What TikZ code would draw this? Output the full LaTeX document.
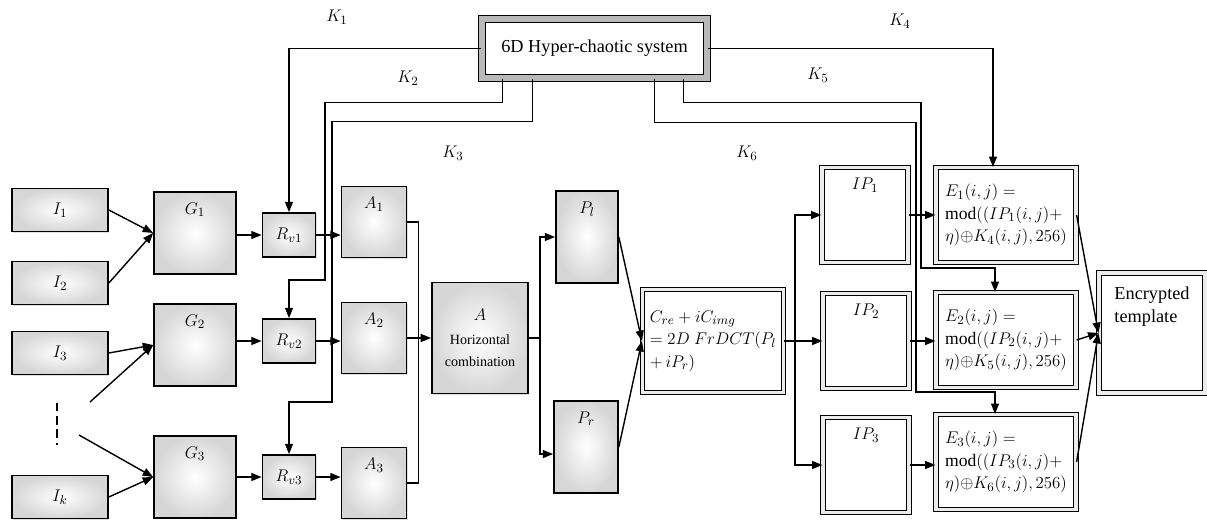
\documentclass[tikz,border=0pt]{standalone}
\usepackage{fontspec}
\setmainfont{Liberation Serif}
\usetikzlibrary{arrows.meta,positioning,calc,shadows}

\begin{document}
\begin{tikzpicture}[x=0.025cm, y=-0.025cm,
    font=\fontsize{13}{16}\selectfont,
    box/.style={draw, line width=1.2pt, inner color=white, outer color=gray!32, align=center,
        drop shadow={opacity=0.25, shadow xshift=1pt, shadow yshift=-1pt}},
    fbox/.style={draw, line width=0.8pt, double=gray!15, double distance=2.5pt, fill=white, align=left,
        drop shadow={opacity=0.25, shadow xshift=1pt, shadow yshift=-1pt}},
    tl/.style={label={[anchor=north, inner sep=0pt, yshift=-8pt]north:#1}},
    ibox/.style={box, minimum width=2.4cm, minimum height=1.075cm},
    gbox/.style={box, minimum width=2.05cm, minimum height=2.05cm, every label/.append style={yshift=-3.5pt}},
    rbox/.style={box, minimum width=1.325cm, minimum height=1.1cm},
    abox/.style={box, minimum width=1.625cm, minimum height=1.775cm},
    pbox/.style={box, minimum width=1.55cm, minimum height=2.3cm},
    ipbox/.style={fbox, minimum width=2.15cm, minimum height=2.375cm},
    ebox/.style={fbox, minimum width=3.5cm, minimum height=2.375cm, font=\fontsize{12.5}{16}\selectfont},
    arr/.style={-{Triangle[length=2.6mm, width=2mm]}, line width=1pt},
    ln/.style={line width=1pt},
]
    \useasboundingbox (0,0) rectangle (1207,521);

    % Chaotic key generator
    \node[draw, line width=1pt, double=gray!55, double distance=4pt, fill=white,
        minimum width=5.625cm, minimum height=1.475cm]
        (chaos) at (594.5,48.5) {6D Hyper-chaotic system};

    % Input images
    \node[ibox] (i1) at (60,210) {$I_1$};
    \node[ibox] (i2) at (60,283) {$I_2$};
    \node[ibox] (i3) at (60,353) {$I_3$};
    \node[ibox] (ik) at (60,497) {$I_k$};
    \node[minimum height=1.05cm, inner sep=0pt] (idots) at (57,424) {};
    \draw[line width=1.5pt, dash pattern=on 6pt off 3.5pt] (idots.north) -- (idots.south);
    \coordinate (d1) at (90,402);
    \coordinate (d2) at (79,435);

    % Groups, rotation and blocks
    \node[gbox, tl={$G_1$}] (g1) at (195,233) {};
    \node[gbox, tl={$G_2$}] (g2) at (195,345) {};
    \node[gbox, tl={$G_3$}] (g3) at (195,477) {};
    \node[rbox] (rv1) at (289,235) {$R_{v1}$};
    \node[rbox] (rv2) at (289,341) {$R_{v2}$};
    \node[rbox] (rv3) at (289,477) {$R_{v3}$};
    \node[abox, tl={$A_1$}] (a1) at (374,222) {};
    \node[abox, tl={$A_2$}] (a2) at (374,338) {};
    \node[abox, tl={$A_3$}] (a3) at (374,483) {};

    % Combination and transform
    \node[box, minimum width=2.4cm, minimum height=2.775cm] (a) at (480,338)
        {$A$\\[1pt]{\fontsize{10}{12}\selectfont Horizontal}\\{\fontsize{10}{12}\selectfont combination}};
    \node[pbox, tl={$P_l$}] (pl) at (587,237) {};
    \node[pbox, tl={$P_r$}, minimum width=1.6cm] (pr) at (586,447) {};
    \node[fbox, minimum width=3.525cm, minimum height=2.575cm, font=\fontsize{12.5}{16}\selectfont] (c) at (713,341)
        {$C_{re}+iC_{img}$\\$=2D\ FrDCT(P_l$\\$+\,iP_r)$};

    % Encryption
    \node[ipbox, tl={$IP_1$}] (ip1) at (865,215) {};
    \node[ipbox, tl={$IP_2$}] (ip2) at (866,341) {};
    \node[ipbox, tl={$IP_3$}] (ip3) at (866,465) {};
    \node[ebox] (e1) at (1006,215) {$E_1(i,j)=$\\$\mathrm{mod}((IP_1(i,j)+$\\$\eta){\oplus}K_4(i,j),256)$};
    \node[ebox] (e2) at (1006,340) {$E_2(i,j)=$\\$\mathrm{mod}((IP_2(i,j)+$\\$\eta){\oplus}K_5(i,j),256)$};
    \node[ebox] (e3) at (1006,462) {$E_3(i,j)=$\\$\mathrm{mod}((IP_3(i,j)+$\\$\eta){\oplus}K_6(i,j),256)$};
    \node[fbox, minimum width=2.65cm, minimum height=3cm,
        label={[anchor=north, align=left, yshift=-7pt]north:{Encrypted\\template}}]
        (enc) at (1152,333) {};

    % Key labels
    \node (k1) at (337,17) {$K_1$};
    \node (k2) at (408,78) {$K_2$};
    \node (k3) at (453,153) {$K_3$};
    \node (k4) at (900,21) {$K_4$};
    \node (k5) at (818,75) {$K_5$};
    \node (k6) at (747,153) {$K_6$};

    % Inputs to groups
    \draw[arr] (i1.east) -- (g1.west);
    \draw[arr] (i2.east) -- (g1.west);
    \draw[arr] (i3.east) -- (g2.west);
    \draw[arr] (d1) -- (g2.west);
    \draw[arr] (d2) -- (g3.west);
    \draw[arr] (ik.east) -- (g3.west);

    \draw[arr] (g1.east |- rv1.west) -- (rv1.west);
    \draw[arr] (g2.east |- rv2.west) -- (rv2.west);
    \draw[arr] (g3.east |- rv3.west) -- (rv3.west);
    \draw[arr] (rv1.east) -- (rv1.east -| a1.west);
    \draw[arr] (rv2.east) -- (rv2.east -| a2.west);
    \draw[arr] (rv3.east) -- (rv3.east -| a3.west);

    \draw[ln] (a1.east) -- ++(11,0) |- (a3.east);
    \draw[arr] (a2.east) -- (a.west);
    \draw[arr] (a.east) -- ++(11,0) |- (pl.west);
    \draw[arr] (a.east) -- ++(11,0) |- ([yshift=-5pt]pr.west);
    \draw[arr] (pl.east) -- (c.west);
    \draw[arr] (pr.east) -- (c.west);

    \draw[arr] (c.east) -- ++(11,0) |- (ip1.west);
    \draw[arr] (c.east) -- (ip2.west);
    \draw[arr] (c.east) -- ++(11,0) |- (ip3.west);
    \draw[arr] (ip1.east) -- (ip1.east -| e1.west);
    \draw[arr] (ip2.east) -- (ip2.east -| e2.west);
    \draw[arr] (ip3.east) -- (ip3.east -| e3.west);
    \draw[arr] (e1.east) -- (enc.west);
    \draw[arr] (e2.east) -- (enc.west);
    \draw[arr] (e3.east) -- (enc.west);

    % Keys from the chaotic system
    \draw[arr] (chaos.west) -| (rv1.north);
    \draw[arr] ($(chaos.south west)+(21,0)$) -- ++(0,24) -| (325,280) -| (rv2.north);
    \draw[arr] ($(chaos.south west)+(51,0)$) -- ++(0,43) -| (332,402) -| (rv3.north);
    \draw[arr] (chaos.east) -| ($(e1.north)+(-13,0)$);
    \draw[arr] ($(chaos.south east)+(-24,0)$) -- ++(0,24) -| (921,268) -| ($(e2.north)+(-11,0)$);
    \draw[arr] ($(chaos.south east)+(-53,0)$) -- ++(0,44) -| (916,392) -| ($(e3.north)+(-11,0)$);
\end{tikzpicture}
\end{document}
